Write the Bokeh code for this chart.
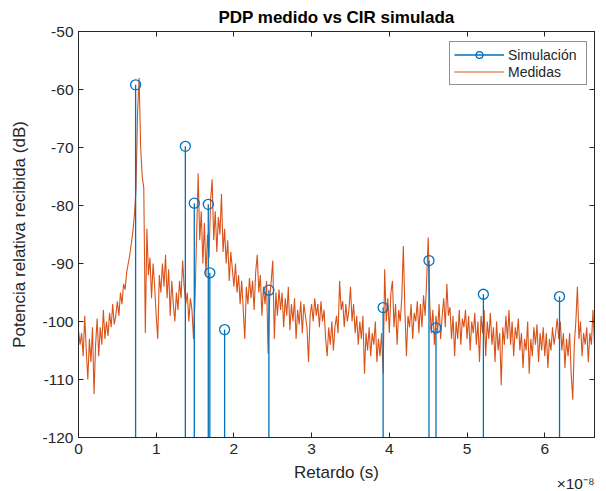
from bokeh.plotting import figure
from bokeh.models import Range1d, LinearAxis, Legend, LegendItem, Title, FixedTicker
from bokeh.embed import file_html
from bokeh.resources import INLINE
import numpy as np

# ---- data (delays in units of 1e-8 s) ----
sim_delay = [0.735, 1.375, 1.49, 1.67, 1.69, 1.88, 2.45, 3.92, 4.51, 4.60, 5.21, 6.19]
sim_power = [-59.2, -69.8, -79.6, -79.8, -91.6, -101.4, -94.6, -97.6, -89.5, -101.1, -95.3, -95.7]

meas_step = 0.02  # sample spacing, 1e-8 s
meas_power = [
    -101.5, -104, -102, -106, -99, -105, -110, -103, -107, -101, -112.5, -104, -99.5, -106, -101, -104, -98, -103, -100, -102.5, -98.5, -101, -97, -100.5, -99,
    -96.5, -99, -95, -97, -93.5, -94.5, -91.5, -90, -88.5, -86.5, -84.5, -81.5, -77, -64, -58, -70, -75, -77, -102, -84, -92, -89, -96, -90, -94,
    -99, -103, -92, -95, -90, -94, -88.5, -96, -91, -99, -93, -97, -100, -95, -98, -93, -96, -89.5, -94, -97, -95, -100, -96, -98, -103,
    -96, -85, -74.5, -86, -81, -90, -83, -92, -85, -89, -79, -75.5, -86, -81, -88, -82, -85, -78, -88, -84, -90, -86, -93, -88, -91,
    -94, -90, -95, -92, -97, -93, -98, -103, -94, -97, -92.5, -96, -93, -98, -91.5, -88.5, -95, -92, -99, -94, -97, -93, -105.5, -96, -93,
    -89.5, -103, -95, -99, -94.5, -98, -95, -101, -96, -99, -94, -101.5, -97, -100, -96, -103, -98, -100.5, -96.5, -102, -97, -99, -101, -107, -99,
    -97, -100, -96, -99, -97, -101, -96.5, -100, -98, -103, -106, -101, -104, -100, -105, -101, -99, -102, -93, -98, -96.5, -101, -97, -100, -98,
    -94, -100, -97, -102, -99, -104, -100, -103, -99, -109, -102, -105, -101, -106, -102, -104, -100, -107, -103, -106, -102, -109, -91, -100, -96,
    -102, -95, -93, -101, -97, -104, -98, -100, -96, -87, -98, -106, -99, -101, -97, -103, -98.5, -100, -96.5, -102, -97, -101, -95.5, -99, -93,
    -85.5, -97, -102, -98, -104, -99, -102, -97, -103, -99, -96, -101, -93.5, -99, -97.5, -103, -99, -106, -100, -103, -98, -104, -99.5, -101, -98,
    -103, -99, -105, -100, -102, -98.5, -104, -100, -107, -99, -102, -98, -106, -100, -103, -98.5, -104, -101, -107, -100, -105, -102, -111, -101, -104,
    -99, -103, -98, -104, -100, -106, -101, -103, -99.5, -105, -102, -108, -103, -105, -100, -109, -103, -106, -101, -104, -100.5, -107, -102, -105, -101,
    -106, -102, -108, -103, -105, -101, -104, -102, -99.5, -103, -100, -105, -102, -108, -103, -106, -102, -109, -113.5, -104, -100, -94, -103, -100, -106,
    -102, -104, -101, -107, -102, -104, -98, -104,
]
meas_delay = list(np.arange(len(meas_power)) * meas_step)

x_ticks = [0, 1, 2, 3, 4, 5, 6]
y_ticks = [-120, -110, -100, -90, -80, -70, -60, -50]

BLUE = "#0072BD"
RED = "#D95319"
AX = "#262626"
FONT = "Liberation Sans"

p = figure(width=606, height=491, output_backend="svg", toolbar_location=None,
           x_range=Range1d(0, 6.64), y_range=Range1d(-120, -50))
p.min_border_left = 78
p.min_border_right = 12
p.min_border_top = 30
p.min_border_bottom = 54
p.background_fill_color = "white"
p.border_fill_color = "white"
p.outline_line_color = AX
p.xgrid.visible = False
p.ygrid.visible = False

p.title.text = "PDP medido vs CIR simulada"
p.title.text_font = FONT
p.title.text_font_size = "17px"
p.title.text_font_style = "bold"
p.title.text_color = "black"
p.title.align = "center"

def style_axis(ax, show_labels=True):
    ax.axis_line_color = AX
    ax.major_tick_line_color = AX
    ax.major_tick_in = 5
    ax.major_tick_out = 0
    ax.minor_tick_line_color = None
    ax.major_label_text_font = FONT
    ax.major_label_text_font_size = "15.5px"
    ax.major_label_text_color = AX if show_labels else None
    ax.axis_label_text_font = FONT
    ax.axis_label_text_font_size = "17px"
    ax.axis_label_text_font_style = "normal"
    ax.axis_label_text_color = AX

xa = p.xaxis[0]
xa.ticker = FixedTicker(ticks=x_ticks)
xa.major_label_overrides = {t: str(t) for t in x_ticks}
xa.axis_label = "Retardo (s)"
style_axis(xa)
xa.major_label_standoff = 6
xa.axis_label_standoff = 6

ya = p.yaxis[0]
ya.ticker = FixedTicker(ticks=y_ticks)
ya.major_label_overrides = {t: str(t) for t in y_ticks}
ya.axis_label = "Potencia relativa recibida (dB)"
style_axis(ya)
ya.major_label_standoff = 5
ya.axis_label_standoff = 10

top = LinearAxis(ticker=FixedTicker(ticks=x_ticks))
style_axis(top, False)
top.major_label_standoff = 0
p.add_layout(top, "above")
right = LinearAxis(ticker=FixedTicker(ticks=y_ticks))
style_axis(right, False)
right.major_label_standoff = 0
p.add_layout(right, "right")

r_meas = p.line(meas_delay, meas_power, line_color=RED, line_width=1.1)
r_stem = p.segment(x0=sim_delay, y0=[-130] * len(sim_delay), x1=sim_delay, y1=sim_power,
                   line_color=BLUE, line_width=1.3)
r_circ = p.scatter(sim_delay, sim_power, marker="circle", size=10, fill_color=None,
                   line_color=BLUE, line_width=1.3)

legend = Legend(items=[LegendItem(label="Simulación", renderers=[r_stem, r_circ]),
                       LegendItem(label="Medidas", renderers=[r_meas])],
                location=(371, 352))
legend.margin = 0
legend.padding = 4
legend.spacing = 0
legend.glyph_width = 50
legend.glyph_height = 17
legend.label_height = 17
legend.label_width = 74
legend.label_standoff = 4
legend.label_text_font = FONT
legend.label_text_font_size = "14px"
legend.label_text_color = AX
legend.border_line_color = AX
legend.border_line_width = 1
legend.background_fill_color = "white"
p.add_layout(legend)

exp_title = Title(text="×10⁻⁸", align="right", vertical_align="top", text_font=FONT,
                  text_font_size="15.5px", text_font_style="normal", text_color=AX,
                  standoff=-20)
p.add_layout(exp_title, "below")

open("out.html", "w").write(file_html(p, INLINE))
